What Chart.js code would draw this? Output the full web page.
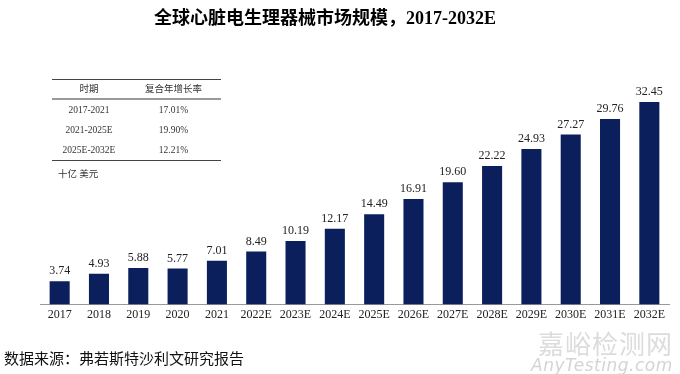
<!DOCTYPE html>
<html>
<head>
<meta charset="utf-8">
<script src="https://cdn.jsdelivr.net/npm/chart.js@4.4.1/dist/chart.umd.min.js"></script>
<style>
  body { margin: 0; background: #fff; }
  #wrap { position: relative; width: 680px; height: 374px; overflow: hidden; }
  #chart { position: absolute; left: 0; top: 0; }
  .title { position: absolute; left: 0; width: 650px; top: 3px; text-align: center;
    font: bold 18px "Liberation Serif", "Noto Sans CJK SC", serif; color: #000; }
  .cagr { position: absolute; left: 52px; top: 79px; width: 169px;
    font: 9.5px "Liberation Serif", "Noto Sans CJK SC", serif; color: #333; }
  .cagr .row { display: flex; height: 20px; line-height: 20px; }
  .cagr .row div { text-align: center; }
  .cagr .c1 { width: 74px; }
  .cagr .c2 { width: 95px; }
  .cagr .head { border-top: 1px solid #444; border-bottom: 2px solid #999; height: 18px; line-height: 18px; }
  .cagr .last { border-bottom: 1px solid #444; }
  .unit { position: absolute; left: 58px; top: 166px; font: 9.5px "Noto Sans CJK SC", sans-serif; color: #333; }
  .source { position: absolute; left: 4px; top: 347px; font: 15px "Noto Sans CJK SC", serif; color: #111; }
  .wm1 { position: absolute; left: 538px; top: 324px; font: 26px "Noto Sans CJK SC", sans-serif; color: #dcdcdc; letter-spacing: 1px; }
  .wm2 { position: absolute; left: 531px; top: 355px; font: italic 17px "DejaVu Sans", sans-serif; color: #d4d4d4; letter-spacing: 0.5px; }
</style>
</head>
<body>
<div id="wrap">
  <canvas id="chart" width="680" height="374"></canvas>
  <div class="title">全球心脏电生理器械市场规模，2017-2032E</div>
  <div class="cagr" id="cagr"></div>
  <div class="unit">十亿 美元</div>
  <div class="source">数据来源：弗若斯特沙利文研究报告</div>
  <div class="wm1">嘉峪检测网</div>
  <div class="wm2">AnyTesting.com</div>
</div>
<script>
// ===== DATA =====
const years = ['2017', '2018', '2019', '2020', '2021', '2022E', '2023E', '2024E',
    '2025E', '2026E', '2027E', '2028E', '2029E', '2030E', '2031E', '2032E'];
const marketSize = [3.74, 4.93, 5.88, 5.77, 7.01, 8.49, 10.19, 12.17,
    14.49, 16.91, 19.60, 22.22, 24.93, 27.27, 29.76, 32.45];
const cagrHeader = ['时期', '复合年增长率'];
const cagrPeriods = ['2017-2021', '2021-2025E', '2025E-2032E'];
const cagrValues = ['17.01%', '19.90%', '12.21%'];

// ===== CAGR TABLE =====
const table = document.getElementById('cagr');
let html = `<div class="row head"><div class="c1">${cagrHeader[0]}</div><div class="c2">${cagrHeader[1]}</div></div>`;
cagrPeriods.forEach((p, i) => {
    const cls = i === cagrPeriods.length - 1 ? 'row last' : 'row';
    html += `<div class="${cls}"><div class="c1">${p}</div><div class="c2">${cagrValues[i]}</div></div>`;
});
table.innerHTML = html;

// ===== VALUE LABELS =====
const valueLabels = {
    id: 'valueLabels',
    afterDatasetsDraw(chart) {
        const { ctx } = chart;
        const meta = chart.getDatasetMeta(0);
        ctx.save();
        ctx.font = '12px "Liberation Serif", serif';
        ctx.fillStyle = '#222';
        ctx.textAlign = 'center';
        ctx.textBaseline = 'bottom';
        meta.data.forEach((bar, i) => {
            ctx.fillText(marketSize[i].toFixed(2), bar.x, bar.y - 4);
        });
        ctx.restore();
    }
};

// ===== BAR CHART =====
new Chart(document.getElementById('chart'), {
    type: 'bar',
    data: {
        labels: years,
        datasets: [{
            data: marketSize,
            backgroundColor: '#0b1f5c',
            categoryPercentage: 1,
            barPercentage: 0.51
        }]
    },
    options: {
        responsive: false,
        animation: false,
        layout: { padding: { left: 40, right: 11, top: 55, bottom: 49 } },
        plugins: {
            legend: { display: false },
            tooltip: { enabled: false }
        },
        scales: {
            x: {
                grid: { display: false, drawTicks: false },
                border: { display: true, color: '#999', width: 1 },
                ticks: {
                    color: '#222',
                    padding: 3,
                    maxRotation: 0,
                    autoSkip: false,
                    font: { family: '"Liberation Serif", serif', size: 12 }
                }
            },
            y: {
                display: false,
                min: 0,
                max: 40
            }
        }
    },
    plugins: [valueLabels]
});
</script>
</body>
</html>
